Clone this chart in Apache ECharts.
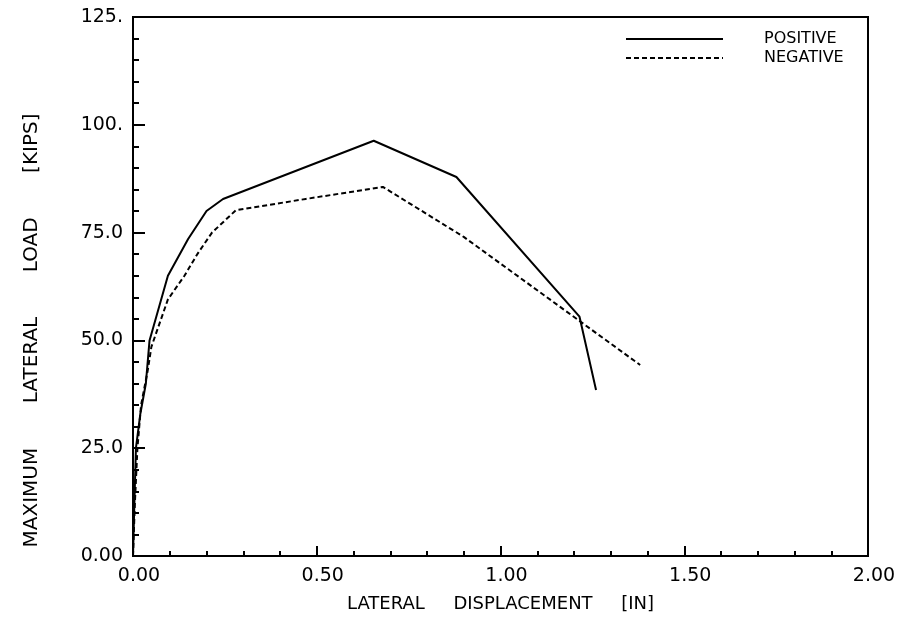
<!DOCTYPE html>
<html>
<head>
<meta charset="utf-8">
<script src="https://cdn.jsdelivr.net/npm/echarts@6/dist/echarts.min.js"></script>
<style>
  html, body { margin: 0; padding: 0; background: #fff; }
  #chart { width: 902px; height: 628px; }
</style>
</head>
<body>
<div id="chart"></div>
<script>
// Envelope of maximum lateral load vs. lateral displacement
const positiveDisp = [0, 0.003, 0.008, 0.02, 0.035, 0.045, 0.095, 0.15, 0.2, 0.245, 0.655, 0.88, 1.215, 1.26];
const positiveLoad = [0, 10, 25, 33, 40, 50, 65, 73.5, 80, 82.8, 96.3, 87.9, 55.5, 38.5];

const negativeDisp = [0, 0.005, 0.012, 0.022, 0.04, 0.05, 0.095, 0.14, 0.175, 0.215, 0.28, 0.47, 0.68, 0.9, 1.38];
const negativeLoad = [0, 12, 25, 35, 43, 48.5, 59.5, 65, 70, 75, 80.2, 82.8, 85.6, 74, 44.3];

const xTickLabels = ['0.00', '0.50', '1.00', '1.50', '2.00'];
const yTickLabels = ['0.00', '25.0', '50.0', '75.0', '100.', '125.'];

const seriesNames = ['POSITIVE', 'NEGATIVE'];

const FONT = 'DejaVu Sans';

function pairs(xs, ys) {
  return xs.map((x, i) => [x, ys[i]]);
}

const chart = echarts.init(document.getElementById('chart'), null, { renderer: 'canvas' });

chart.setOption({
  animation: false,
  backgroundColor: '#ffffff',
  grid: {
    left: 133, right: 34, top: 17, bottom: 72,
    show: true, borderColor: '#000', borderWidth: 2, backgroundColor: 'transparent'
  },
  legend: {
    orient: 'vertical',
    left: 620, top: 26,
    itemWidth: 97, itemHeight: 19, itemGap: 3,
    data: seriesNames,
    itemStyle: { opacity: 0 },
    textStyle: { fontFamily: FONT, fontSize: 16, color: '#000', padding: [0, 0, 0, 36] }
  },
  xAxis: {
    type: 'value',
    min: 0, max: 2, interval: 0.5,
    name: 'LATERAL     DISPLACEMENT     [IN]',
    nameLocation: 'middle', nameGap: 39,
    nameTextStyle: { fontFamily: FONT, fontSize: 18, color: '#000' },
    axisLine: { show: true, lineStyle: { color: '#000', width: 2 } },
    axisTick: { show: true, inside: true, length: 10, lineStyle: { color: '#000', width: 2 } },
    minorTick: { show: true, splitNumber: 5, length: 5, lineStyle: { color: '#000', width: 2 } },
    splitLine: { show: false },
    axisLabel: {
      fontFamily: FONT, fontSize: 19, color: '#000', margin: 11,
      padding: [0, 0, 0, 12],
      formatter: (v) => xTickLabels[Math.round(v / 0.5)]
    }
  },
  yAxis: {
    type: 'value',
    min: 0, max: 125, interval: 25,
    name: 'MAXIMUM       LATERAL       LOAD       [KIPS]',
    nameLocation: 'middle', nameGap: 91, nameRotate: 90,
    nameTextStyle: { fontFamily: FONT, fontSize: 20, color: '#000', padding: [0, 88, 0, 0] },
    axisLine: { show: true, lineStyle: { color: '#000', width: 2 } },
    axisTick: { show: true, inside: true, length: 12, lineStyle: { color: '#000', width: 2 } },
    minorTick: { show: true, splitNumber: 5, length: 6, lineStyle: { color: '#000', width: 2 } },
    splitLine: { show: false },
    axisLabel: {
      fontFamily: FONT, fontSize: 19, color: '#000', margin: 10,
      formatter: (v) => yTickLabels[Math.round(v / 25)]
    }
  },
  series: [
    {
      name: seriesNames[0],
      type: 'line',
      data: pairs(positiveDisp, positiveLoad),
      symbol: 'none', showSymbol: false,
      lineStyle: { color: '#000', width: 2, type: 'solid' },
      itemStyle: { color: '#000' }
    },
    {
      name: seriesNames[1],
      type: 'line',
      data: pairs(negativeDisp, negativeLoad),
      symbol: 'none', showSymbol: false,
      lineStyle: { color: '#000', width: 2, type: [5, 3] },
      itemStyle: { color: '#000' }
    }
  ]
});
</script>
</body>
</html>
